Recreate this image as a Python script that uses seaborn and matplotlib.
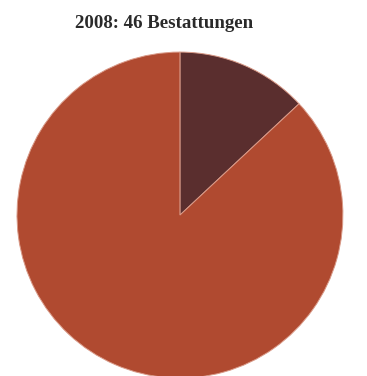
import matplotlib
matplotlib.use("Agg")
import matplotlib.pyplot as plt
import seaborn as sns

sns.set_theme(style="white")
plt.rcParams['font.family'] = ['Liberation Serif', 'DejaVu Serif']

categories = ["Kategorie A", "Kategorie B"]
values = [6, 40]
colors = ["#5A2E2E", "#B04A30"]
title = "2008: 46 Bestattungen"

fig = plt.figure(figsize=(3.67, 3.76), dpi=100)
ax = fig.add_axes([0.0463, -0.0055, 0.888, 0.867])
ax.pie(values, colors=colors, startangle=90, counterclock=False,
       wedgeprops=dict(edgecolor="#D99A88", linewidth=0.7), radius=1.0)
ax.set_xlim(-1, 1)
ax.set_ylim(-1, 1)
ax.set_aspect("auto")
ax.axis("off")
fig.text(0.446, 0.937, title, ha="center", va="center", fontsize=13.6,
         fontweight="bold", color="#2A2A2A")
fig.savefig("out.png", dpi=100, facecolor="white")
